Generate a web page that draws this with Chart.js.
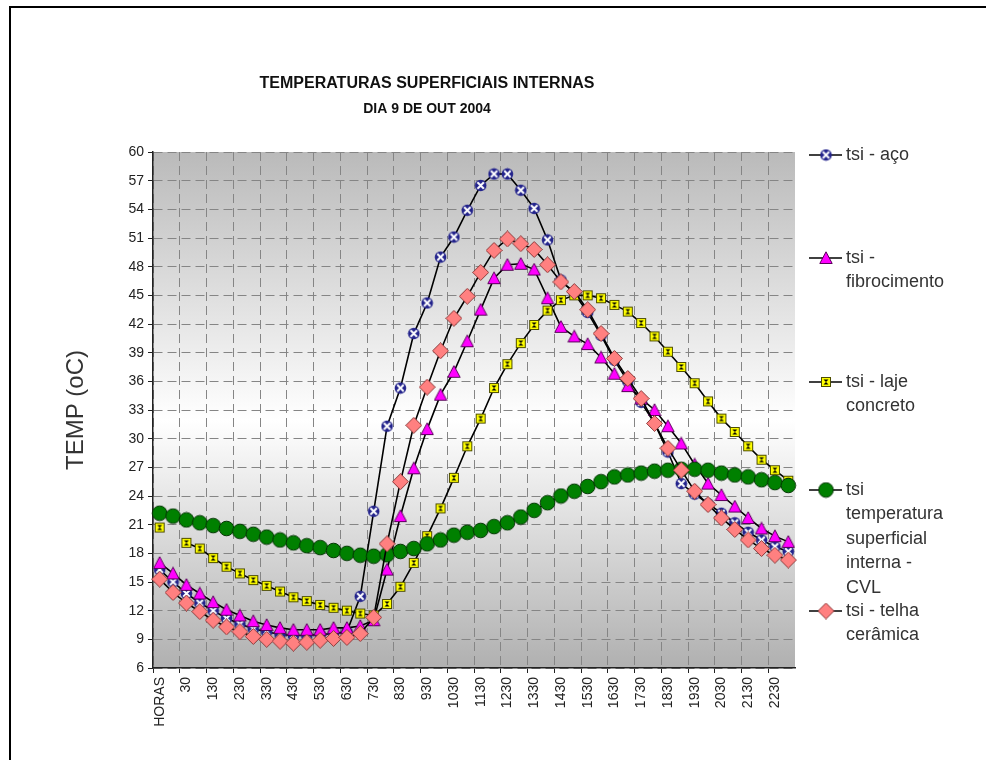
<!DOCTYPE html>
<html>
<head>
<meta charset="utf-8">
<script src="https://cdn.jsdelivr.net/npm/chart.js@4.4.1/dist/chart.umd.min.js"></script>
<style>
  html, body { margin: 0; padding: 0; background: #fff; }
  #wrap { position: relative; width: 986px; height: 760px; }
</style>
</head>
<body>
<div id="wrap"><canvas id="myChart"></canvas></div>
<script>
// horas (a cada 30 min), so metade dos rotulos aparece no eixo
const categories = ['HORAS', '0', '30', '100', '130', '200', '230', '300', '330', '400', '430', '500',
    '530', '600', '630', '700', '730', '800', '830', '900', '930', '1000', '1030', '1100',
    '1130', '1200', '1230', '1300', '1330', '1400', '1430', '1500', '1530', '1600', '1630', '1700',
    '1730', '1800', '1830', '1900', '1930', '2000', '2030', '2100', '2130', '2200', '2230', '2300'];

const tsiAco = [16.3, 15.0, 13.8, 12.8, 12.0, 11.2, 10.6, 10.1, 9.8, 9.5, 9.4, 9.4,
    9.5, 9.6, 9.8, 13.5, 22.4, 31.3, 35.3, 41.0, 44.2, 49.0, 51.1, 53.9,
    56.5, 57.7, 57.7, 56.0, 54.1, 50.8, 46.6, 45.2, 43.2, 40.8, 38.2, 36.0,
    33.8, 31.6, 28.6, 25.3, 24.2, 23.2, 22.2, 21.2, 20.2, 19.4, 18.7, 18.2];

const tsiFibro = [17.0, 15.9, 14.7, 13.8, 12.9, 12.1, 11.5, 10.9, 10.5, 10.2, 10.0, 10.0,
    10.0, 10.2, 10.2, 10.4, 11.0, 16.3, 21.9, 26.9, 31.0, 34.6, 37.0, 40.2,
    43.5, 46.8, 48.2, 48.3, 47.7, 44.7, 41.7, 40.7, 39.9, 38.5, 36.8, 35.5,
    34.2, 33.0, 31.3, 29.5, 27.3, 25.3, 24.1, 22.9, 21.7, 20.6, 19.8, 19.2];

const tsiLaje = [20.7, null, 19.1, 18.5, 17.5, 16.6, 15.9, 15.2, 14.6, 14.0, 13.4, 13.0,
    12.6, 12.3, 12.0, 11.7, 11.5, 12.7, 14.5, 17.0, 19.8, 22.7, 25.9, 29.2,
    32.1, 35.3, 37.8, 40.0, 41.9, 43.4, 44.5, 45.0, 45.0, 44.7, 44.0, 43.3,
    42.1, 40.7, 39.1, 37.5, 35.8, 33.9, 32.1, 30.7, 29.2, 27.8, 26.7, 25.6];

const tsiCvl = [22.2, 21.9, 21.5, 21.2, 20.9, 20.6, 20.3, 20.0, 19.7, 19.4, 19.1, 18.8,
    18.6, 18.3, 18.0, 17.8, 17.7, 17.85, 18.2, 18.5, 19.0, 19.4, 19.9, 20.2,
    20.4, 20.8, 21.2, 21.8, 22.5, 23.3, 24.0, 24.5, 25.0, 25.5, 26.0, 26.2,
    26.4, 26.6, 26.7, 26.8, 26.8, 26.7, 26.4, 26.2, 26.0, 25.7, 25.4, 25.1];

const tsiTelha = [15.3, 13.9, 12.8, 11.9, 11.0, 10.3, 9.8, 9.3, 9.0, 8.8, 8.6, 8.7,
    8.9, 9.1, 9.2, 9.6, 11.3, 19.0, 25.5, 31.4, 35.4, 39.2, 42.6, 44.9,
    47.4, 49.7, 50.9, 50.4, 49.8, 48.2, 46.4, 45.4, 43.5, 41.0, 38.4, 36.3,
    34.2, 31.6, 29.0, 26.7, 24.5, 23.1, 21.7, 20.5, 19.4, 18.5, 17.8, 17.3];

// nomes das series, quebrados em linhas como na legenda
const seriesNames = [
    ['tsi - aço'],
    ['tsi -', 'fibrocimento'],
    ['tsi - laje', 'concreto'],
    ['tsi', 'temperatura', 'superficial', 'interna -', 'CVL'],
    ['tsi - telha', 'cerâmica']
];

const FONT = "'Liberation Sans', Arial, sans-serif";

/* MARCADORES DESENHADOS EM CANVAS PEQUENOS */
let makeMarker = (kind) => {
    const sizes = { xcircle: 13, triangle: 14, hourglass: 12, circle: 17, diamond: 17 };
    const s = sizes[kind];
    const c = document.createElement('canvas');
    c.width = s; c.height = s;
    const g = c.getContext('2d');
    const m = s / 2;
    g.lineWidth = 1;
    if (kind === 'xcircle') {
        g.fillStyle = '#23238c';
        g.beginPath(); g.arc(m, m, 5.8, 0, Math.PI * 2); g.fill();
        g.strokeStyle = '#ffffff'; g.lineWidth = 2;
        g.beginPath(); g.moveTo(m - 3.2, m - 3.2); g.lineTo(m + 3.2, m + 3.2);
        g.moveTo(m + 3.2, m - 3.2); g.lineTo(m - 3.2, m + 3.2); g.stroke();
    } else if (kind === 'triangle') {
        g.fillStyle = '#ff00ff'; g.strokeStyle = '#5a005a';
        g.beginPath(); g.moveTo(m, 0.8); g.lineTo(s - 0.8, s - 1.5); g.lineTo(0.8, s - 1.5); g.closePath();
        g.fill(); g.stroke();
    } else if (kind === 'hourglass') {
        g.fillStyle = '#ffff00'; g.strokeStyle = '#4d4d00';
        g.fillRect(1.5, 1.5, s - 3, s - 3); g.strokeRect(1.5, 1.5, s - 3, s - 3);
        g.fillStyle = '#000';
        g.beginPath(); g.moveTo(3.5, 3.5); g.lineTo(s - 3.5, 3.5); g.lineTo(m, m); g.closePath(); g.fill();
        g.beginPath(); g.moveTo(3.5, s - 3.5); g.lineTo(s - 3.5, s - 3.5); g.lineTo(m, m); g.closePath(); g.fill();
    } else if (kind === 'circle') {
        g.fillStyle = '#008000'; g.strokeStyle = '#003300';
        g.beginPath(); g.arc(m, m, 7.3, 0, Math.PI * 2); g.fill(); g.stroke();
    } else if (kind === 'diamond') {
        g.fillStyle = '#ff8080'; g.strokeStyle = '#8b3a3a';
        g.beginPath(); g.moveTo(m, 0.5); g.lineTo(s - 0.5, m); g.lineTo(m, s - 0.5); g.lineTo(0.5, m); g.closePath();
        g.fill(); g.stroke();
    }
    return c;
};

const markers = [makeMarker('xcircle'), makeMarker('triangle'), makeMarker('hourglass'), makeMarker('circle'), makeMarker('diamond')];

let serie = (i, values) => ({
    label: seriesNames[i].join(' '),
    data: values,
    borderColor: '#000000',
    borderWidth: 1.6,
    tension: 0,
    pointStyle: markers[i],
    pointRadius: 6,
    order: 5 - i
});

/* FUNDO DEGRADE DA AREA DO GRAFICO */
const plotBg = {
    id: 'plotBg',
    beforeDraw(chart) {
        const {ctx, chartArea: a} = chart;
        ctx.save();
        ctx.fillStyle = '#ffffff';
        ctx.fillRect(0, 0, chart.width, chart.height);
        const g = ctx.createLinearGradient(0, a.top, 0, a.bottom);
        g.addColorStop(0, '#bababa');
        g.addColorStop(0.52, '#ffffff');
        g.addColorStop(1, '#b0b0b0');
        ctx.fillStyle = g;
        ctx.fillRect(a.left, a.top, a.right - a.left, a.bottom - a.top);
        ctx.restore();
    }
};

/* LEGENDA A DIREITA + MOLDURA */
const sideLegend = {
    id: 'sideLegend',
    afterDraw(chart) {
        const ctx = chart.ctx;
        const tops = [155, 258, 382, 490, 611];
        const lineH = 24.5;
        ctx.save();
        chart.data.datasets.forEach((ds, i) => {
            const y = tops[i];
            ctx.strokeStyle = '#000'; ctx.lineWidth = 1.6;
            ctx.beginPath(); ctx.moveTo(809, y); ctx.lineTo(842, y); ctx.stroke();
            const mk = markers[i];
            ctx.drawImage(mk, 826 - mk.width / 2, y - mk.height / 2);
            ctx.fillStyle = '#333';
            ctx.font = '18px ' + FONT;
            ctx.textBaseline = 'middle';
            seriesNames[i].forEach((t, k) => ctx.fillText(t, 846, y + k * lineH));
        });
        ctx.fillStyle = '#000';
        ctx.fillRect(9, 6, 2, chart.height);
        ctx.fillRect(9, 6, chart.width, 2);
        ctx.restore();
    }
};

const ctx = document.getElementById('myChart');

const dataset = {
    labels: categories,
    datasets: [
        serie(0, tsiAco),
        serie(1, tsiFibro),
        serie(2, tsiLaje),
        serie(3, tsiCvl),
        serie(4, tsiTelha)
    ]
};

const config = {
    type: 'line',
    data: dataset,
    options: {
        responsive: true,
        maintainAspectRatio: false,
        animation: false,
        layout: { padding: { top: 62, left: 59, right: 191, bottom: 0 } },
        plugins: {
            legend: { display: false },
            tooltip: { enabled: false },
            title: {
                display: true,
                text: 'TEMPERATURAS SUPERFICIAIS INTERNAS',
                color: '#111',
                font: { family: FONT, size: 16, weight: 'bold' },
                padding: { top: 12, bottom: 8 }
            },
            subtitle: {
                display: true,
                text: 'DIA 9 DE OUT 2004',
                color: '#111',
                font: { family: FONT, size: 14, weight: 'bold' },
                padding: { top: 0, bottom: 34 }
            }
        },
        scales: {
            x: {
                offset: true,
                grid: {
                    offset: true,
                    lineWidth: 1,
                    color: (c) => c.index % 2 === 0 ? '#858585' : 'rgba(0,0,0,0)',
                    tickColor: (c) => c.index % 2 === 0 ? '#222' : 'rgba(0,0,0,0)',
                    tickLength: 5,
                    borderDash: [9, 5]
                },
                border: { display: true, color: '#222', width: 1.5, dash: [9, 5] },
                ticks: {
                    autoSkip: false,
                    maxRotation: 90,
                    minRotation: 90,
                    padding: 4,
                    color: '#222',
                    font: { family: FONT, size: 14 },
                    callback: function (v, i) { return i % 2 === 0 ? this.getLabelForValue(v) : ''; }
                },
                afterFit: (s) => { s.height = 92; }
            },
            y: {
                min: 6,
                max: 60,
                grid: { color: '#858585', lineWidth: 1, tickColor: '#222', tickLength: 5, borderDash: [9, 5] },
                border: { display: true, color: '#222', width: 1.5, dash: [9, 5] },
                ticks: { stepSize: 3, padding: 4, color: '#222', font: { family: FONT, size: 14 } },
                title: {
                    display: true,
                    text: 'TEMP (oC)',
                    color: '#333',
                    font: { family: FONT, size: 24 },
                    padding: { top: 3, bottom: 0 }
                },
                afterFit: (s) => { s.width = 94; }
            }
        }
    },
    plugins: [plotBg, sideLegend]
};

const chart = new Chart(ctx, config);
</script>
</body>
</html>
